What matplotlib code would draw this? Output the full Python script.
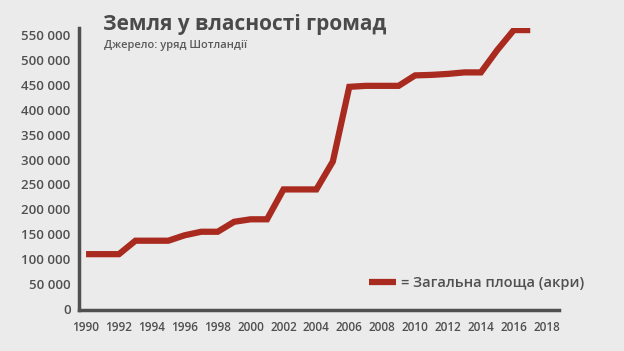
import matplotlib
matplotlib.use("Agg")
import matplotlib.pyplot as plt
from matplotlib.ticker import FuncFormatter

# data (acres of community-owned land)
years = list(range(1990, 2018))
acres = [110000, 110000, 110000, 137000, 137000, 137000, 148000, 155000,
         155000, 175000, 180000, 180000, 240000, 240000, 240000, 296000,
         446000, 448000, 448000, 448000, 469000, 470000, 472000, 475000,
         475000, 520000, 560000, 560000]

x_ticks = list(range(1990, 2019, 2))
y_ticks = list(range(0, 550001, 50000))

title = "Земля у власності громад"
subtitle = "Джерело: уряд Шотландії"
legend_label = "= Загальна площа (акри)"

bg = "#ebebeb"
grey = "#505050"
red = "#a92a1f"

plt.rcParams["font.family"] = ["Open Sans", "DejaVu Sans"]

fig = plt.figure(figsize=(6.24, 3.51), dpi=100, facecolor=bg)
ax = fig.add_axes([0.1266, 0.117, 0.769, 0.803])
ax.set_facecolor(bg)

ax.plot(years, acres, color=red, lw=4.5, solid_joinstyle="miter",
        solid_capstyle="butt", label=legend_label)

ax.set_xlim(1989.57, 2018.74)
ax.set_ylim(-2000, 564000)
ax.set_xticks(x_ticks)
ax.set_yticks(y_ticks)
ax.yaxis.set_major_formatter(FuncFormatter(lambda v, p: f"{int(v):,}".replace(",", " ")))
ax.tick_params(length=0, colors=grey)
ax.tick_params(axis="y", labelsize=9.5, pad=6)
ax.tick_params(axis="x", labelsize=8.5, pad=8)
for lab in ax.get_xticklabels() + ax.get_yticklabels():
    lab.set_fontweight("semibold")

for side in ["top", "right"]:
    ax.spines[side].set_visible(False)
for side in ["left", "bottom"]:
    ax.spines[side].set_color(grey)
    ax.spines[side].set_linewidth(2.5)

fig.text(0.165, 0.915, title, fontsize=15, fontweight="bold", color="#4a4a4a",
         va="baseline")
fig.text(0.166, 0.862, subtitle, fontsize=8, fontweight="semibold",
         color="#5a5a5a", va="baseline")

leg = ax.legend(loc="center right", bbox_to_anchor=(0.937, 1 - 283 / 351),
                bbox_transform=fig.transFigure, frameon=False,
                borderpad=0, borderaxespad=0,
                prop={"size": 10.5, "weight": "semibold"},
                handlelength=1.9, handletextpad=0.35, labelcolor=grey)

fig.savefig("out.png", dpi=100, facecolor=bg)
